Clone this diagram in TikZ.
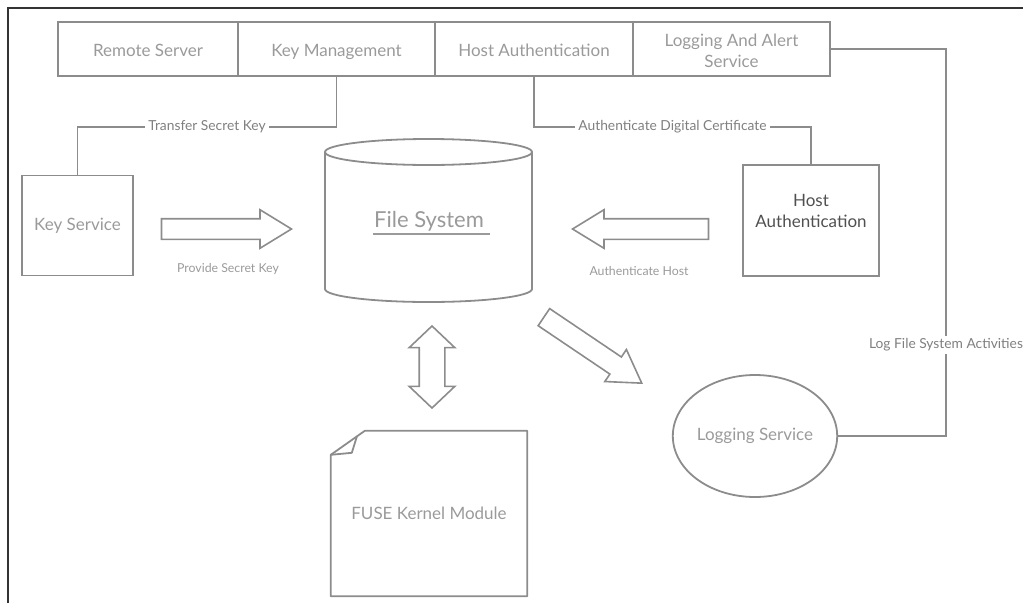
\documentclass[tikz,border=0pt]{standalone}
\usepackage{fontspec}
\setmainfont{Lato}
\usetikzlibrary{shapes.geometric,shapes.arrows}
\definecolor{linegray}{HTML}{8C8C8C}
\definecolor{textgray}{HTML}{9A9A9A}
\definecolor{labelgray}{HTML}{808080}
\definecolor{darktext}{HTML}{505050}
\begin{document}
\begin{tikzpicture}[x=1pt,y=-1pt,
  every node/.style={font=\fontsize{17}{21}\selectfont, text=textgray},
  cell/.style={draw=linegray, line width=1.8pt, minimum height=54pt, inner sep=0pt, align=center},
  oneline/.style={text height=16pt, text depth=2pt},
  box/.style={draw=linegray, line width=1.8pt, inner sep=0pt, align=center},
  link/.style={draw=linegray, line width=1.8pt},
  linklabel/.style={fill=white, inner sep=3pt, text=labelgray, font=\fontsize{13.8}{16}\selectfont},
  sublabel/.style={text=textgray, font=\fontsize{12.3}{15}\selectfont},
  fatarrow/.style={draw=linegray, line width=1.6pt, single arrow, inner xsep=0pt, inner ysep=9.5pt,
    single arrow head extend=9pt, single arrow tip angle=63},
  twinarrow/.style={draw=linegray, line width=1.6pt, double arrow, inner xsep=0pt, inner ysep=12pt,
    double arrow head extend=10pt, double arrow tip angle=93},
]
\useasboundingbox (0,0) rectangle (1023,603);

% outer frame (top and left edges only)
\draw[line width=1.2pt, black!80] (8,603) -- (8,8) -- (1023,8);

% top bar of services
\node[cell, oneline, minimum width=180pt] (rs) at (148,49) {Remote Server};
\node[cell, oneline, minimum width=197pt] (km) at (336.5,49) {Key Management};
\node[cell, oneline, minimum width=198pt] (ha) at (534,49) {Host Authentication};
\node[cell, minimum width=197pt] (la) at (731.5,49) {};
\node[align=center] (lat) at (731.5,51) {Logging And Alert\\Service};

% side boxes
\node[box, minimum width=111pt, minimum height=100pt] (ks) at (77.5,225.5) {Key Service};
\node[box, minimum width=136pt, minimum height=111pt] (hab) at (811,220.5) {};
\node[text=darktext, align=center] (habt) at (811,211) {Host\\Authentication};

% file system cylinder
\draw[link] (325,152) -- (325,289) arc[start angle=180, end angle=360, x radius=103.5pt, y radius=13pt] -- (532,152);
\draw[link] (428.5,152) ellipse[x radius=103.5pt, y radius=13pt];
\node[font=\fontsize{22}{26}\selectfont] (fs) at (429,221) {File System};
\draw[textgray, line width=1.3pt] (373,234) -- (490,234);

% logging service
\node[ellipse, draw=linegray, line width=1.8pt, inner sep=0pt, minimum width=162pt, minimum height=122pt] (ls) at (755,436) {Logging Service};

% FUSE kernel module page with folded corner
\node[minimum width=196pt, minimum height=165pt, inner sep=0pt] (fuse) at (429,513.5) {FUSE Kernel Module};
\draw[link, line join=round] ([xshift=34pt]fuse.north west) -- (fuse.north east) -- (fuse.south east)
  -- (fuse.south west) -- ([yshift=-24pt]fuse.north west) -- cycle;
\draw[link, line join=round] ([yshift=-24pt]fuse.north west) -- ([xshift=21pt,yshift=-22pt]fuse.north west)
  -- ([xshift=26pt,yshift=-6pt]fuse.north west);

% block arrows
\node[fatarrow, minimum height=130pt, anchor=tip] (pk) at (293,229) {};
\node[fatarrow, minimum height=136pt, anchor=tip, shape border rotate=180] (ah) at (571,229) {};
\node[fatarrow, minimum height=118pt, anchor=tip, rotate=-34] (lg) at (643,384) {};
\node[twinarrow, minimum height=82pt, rotate=90] (io) at (432,367) {};

\node[sublabel] (pkl) at (228,269) {Provide Secret Key};
\node[sublabel] (ahl) at (639,271) {Authenticate Host};

% connectors
\draw[link] (km.south) -- (km.south |- 0,127) -- node[linklabel] {Transfer Secret Key} (ks.north |- 0,127) -- (ks.north);
\draw[link] (ha.south) -- (ha.south |- 0,127) -- node[linklabel] {Authenticate Digital Certificate} (hab.north |- 0,127) -- (hab.north);
\coordinate (lr) at (946,49);
\draw[link] (la.east) -- (lr) -- node[linklabel, pos=0.765, inner xsep=1pt] {Log File System Activities} (lr |- ls.east) -- (ls.east);
\end{tikzpicture}
\end{document}
